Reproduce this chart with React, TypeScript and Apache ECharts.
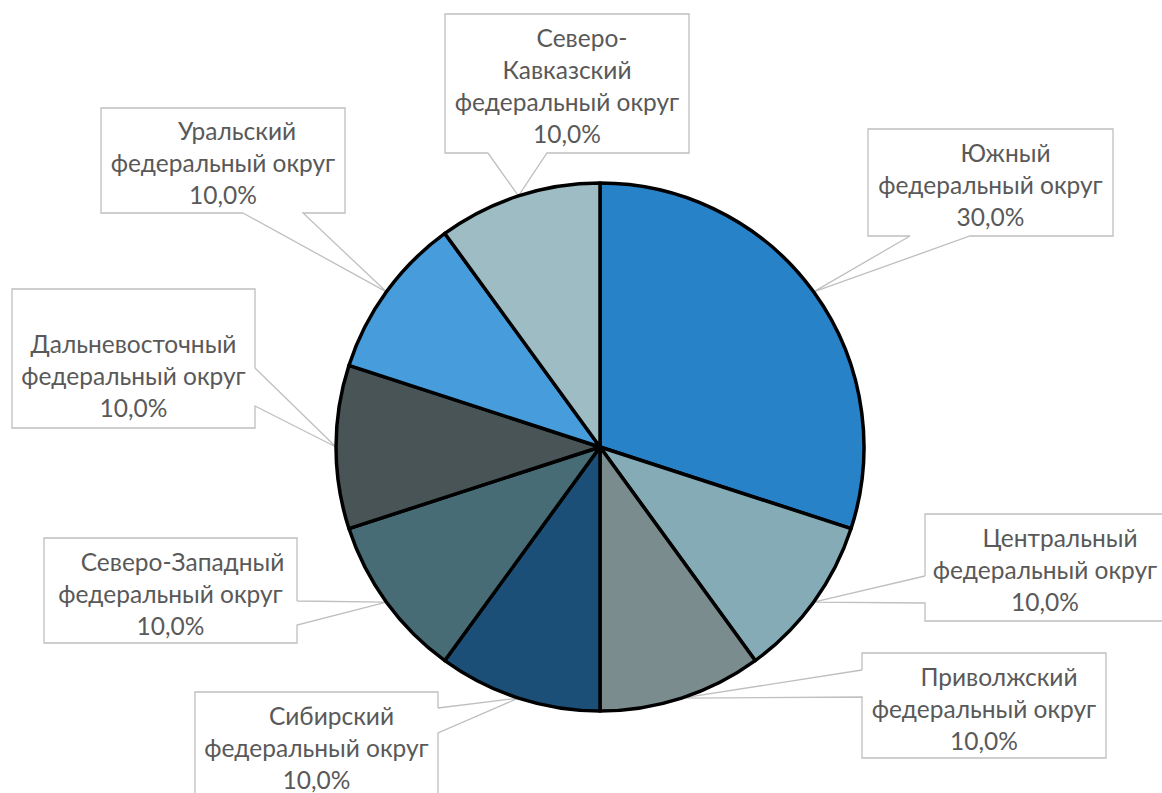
import React, { useEffect, useRef } from 'react';
import * as echarts from 'echarts';

// ---- data ----
const categories = [
  'Южный федеральный округ',
  'Центральный федеральный округ',
  'Приволжский федеральный округ',
  'Сибирский федеральный округ',
  'Северо-Западный федеральный округ',
  'Дальневосточный федеральный округ',
  'Уральский федеральный округ',
  'Северо-Кавказский федеральный округ',
];
const values = [30, 10, 10, 10, 10, 10, 10, 10];
const titleLines = [
  ['Южный'],
  ['Центральный'],
  ['Приволжский'],
  ['Сибирский'],
  ['Северо-Западный'],
  ['Дальневосточный'],
  ['Уральский'],
  ['Северо-', 'Кавказский'],
];
const subtitle = 'федеральный округ';

// ---- styles ----
const colors = ['#2882C8', '#85ACB6', '#7B8C8E', '#1B4F78', '#476C75', '#485456', '#479CDC', '#9DBCC4'];

// callout boxes: rect [left, top, width, height], side of the wedge, wedge ends along that side,
// top padding of text, indent of first line
const boxes = [
  { rect: [868, 129, 245, 107], side: 'bottom', a1: 910, a2: 970, pad: 7, indent: 30 },
  { rect: [925, 514, 240, 107], side: 'left', a1: 576, a2: 603, pad: 7, indent: 30 },
  { rect: [862, 653, 244, 105], side: 'left', a1: 670, a2: 697, pad: 7, indent: 30 },
  { rect: [195, 692, 243, 110], side: 'right', a1: 708, a2: 733, pad: 7, indent: 30 },
  { rect: [44, 538, 253, 105], side: 'right', a1: 601, a2: 625, pad: 7, indent: 24 },
  { rect: [12, 289, 243, 139], side: 'right', a1: 368, a2: 406, pad: 38, indent: 0 },
  { rect: [101, 108, 244, 105], side: 'bottom', a1: 243, a2: 303, pad: 6, indent: 28 },
  { rect: [445, 14, 244, 139], side: 'bottom', a1: 488, a2: 547, pad: 7, indent: 30 },
];

const FONT = 'Lato';
const FS = 24.5;
const LH = 32;
const TEXT_COLOR = '#595959';
const LINE_COLOR = '#BFBFBF';

export default function App() {
  const ref = useRef<HTMLDivElement>(null);
  useEffect(() => {
    document.body.style.margin = '0';
    if (!ref.current) return;
    const chart = echarts.init(ref.current, undefined, { renderer: 'svg' });
    const total = values.reduce((s, v) => s + v, 0);
    const tokenBase = { fontFamily: FONT, fontSize: FS, color: TEXT_COLOR, lineHeight: LH, align: 'center' as const };
    const rich: any = {
      b: { ...tokenBase },
    };
    boxes.forEach((b, i) => {
      rich['a' + i] = { ...tokenBase, padding: [0, 0, 0, b.indent] };
    });

    const data = categories.map((name, i) => ({
      name,
      value: values[i],
      itemStyle: { color: colors[i] },
    }));

    chart.setOption({
      animation: false,
      series: [
        {
          type: 'pie',
          center: [600, 447],
          radius: 264,
          startAngle: 90,
          clockwise: true,
          avoidLabelOverlap: false,
          silent: true,
          emphasis: { disabled: true },
          itemStyle: { borderColor: '#000000', borderWidth: 3.5 },
          data,
          label: {
            show: true,
            position: 'outside',
            fontFamily: FONT,
            fontSize: FS,
            color: TEXT_COLOR,
            lineHeight: LH,
            width: 250,
            overflow: 'none',
            formatter: (p: any) => {
              const i = p.dataIndex;
              const lines = titleLines[i];
              const pct = ((values[i] / total) * 100).toFixed(1).replace('.', ',') + '%';
              const parts: string[] = [];
              lines.forEach((l, k) => parts.push(k === 0 ? `{a${i}|${l}}` : `{b|${l}}`));
              parts.push(`{b|${subtitle}}`);
              parts.push(`{b|${pct}}`);
              return parts.join('\n');
            },
            rich,
          },
          labelLine: {
            show: true,
            lineStyle: { color: LINE_COLOR, width: 1.3 },
          },
          labelLayout: (p: any) => {
            const b = boxes[p.dataIndex];
            const [x, y, w, h] = b.rect;
            const P = p.labelLinePoints ? p.labelLinePoints[0] : [x, y];
            const TL = [x, y], TR = [x + w, y], BR = [x + w, y + h], BL = [x, y + h];
            let pts: number[][];
            if (b.side === 'bottom') {
              const A = [b.a1, y + h], B = [b.a2, y + h];
              pts = [A, BL, TL, TR, BR, B, P, A];
            } else if (b.side === 'right') {
              const A = [x + w, b.a1], B = [x + w, b.a2];
              pts = [A, TR, TL, BL, BR, B, P, A];
            } else {
              const A = [x, b.a1], B = [x, b.a2];
              pts = [A, TL, TR, BR, BL, B, P, A];
            }
            return {
              x: x + w / 2,
              y: y + b.pad,
              align: 'center',
              verticalAlign: 'top',
              labelLinePoints: pts,
            };
          },
        },
      ],
    });
    return () => chart.dispose();
  }, []);
  return <div ref={ref} style={{ width: 1162, height: 793 }} />;
}
